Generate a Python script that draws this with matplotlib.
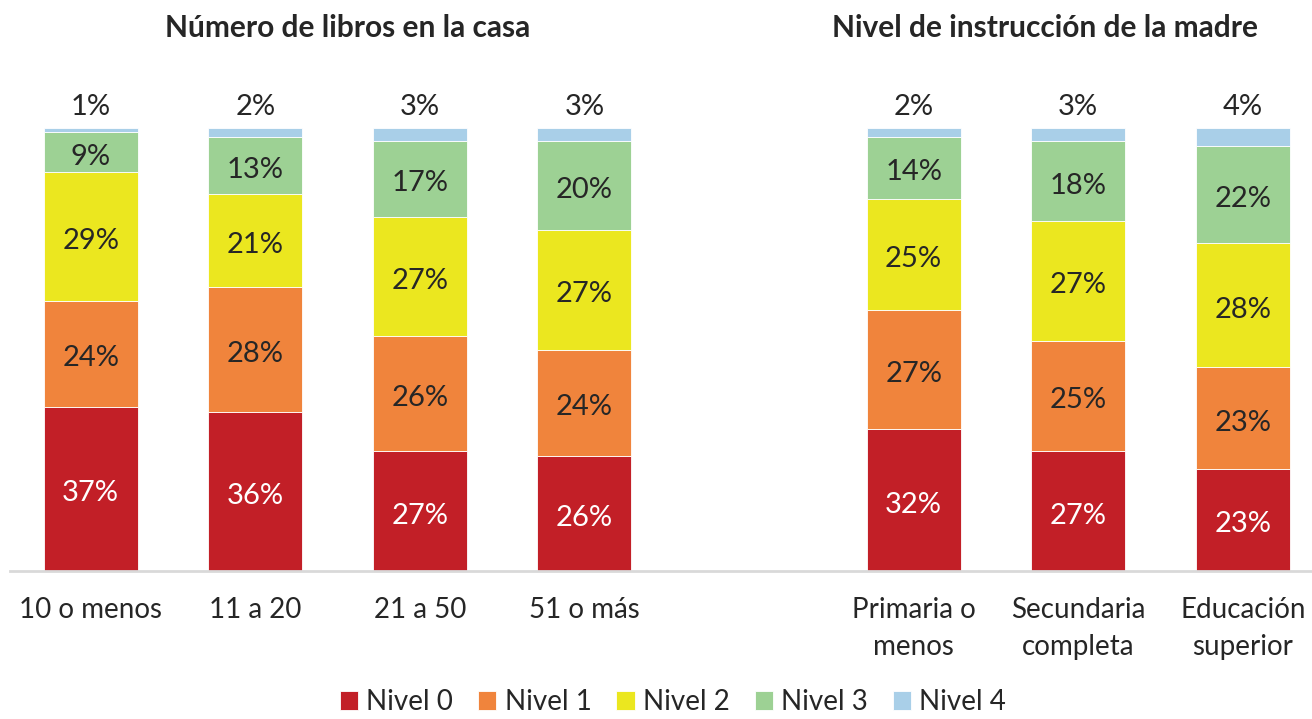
import matplotlib.pyplot as plt

plt.rcParams['font.family'] = ['Lato', 'DejaVu Sans']

categories = ['10 o menos', '11 a 20', '21 a 50', '51 o más',
              'Primaria o\nmenos', 'Secundaria\ncompleta', 'Educación\nsuperior']
positions = [0, 1, 2, 3, 5, 6, 7]
levels = ['Nivel 0', 'Nivel 1', 'Nivel 2', 'Nivel 3', 'Nivel 4']
nivel0 = [37, 36, 27, 26, 32, 27, 23]
nivel1 = [24, 28, 26, 24, 27, 25, 23]
nivel2 = [29, 21, 27, 27, 25, 27, 28]
nivel3 = [9, 13, 17, 20, 14, 18, 22]
nivel4 = [1, 2, 3, 3, 2, 3, 4]
series = [nivel0, nivel1, nivel2, nivel3, nivel4]
colors = ['#C21F27', '#F0843C', '#EBE71F', '#9DD194', '#A9CFE8']
text_colors = ['white', '#262626', '#262626', '#262626', '#262626']

fig = plt.figure(figsize=(13.12, 7.19), dpi=100)
ax = fig.add_axes([10 / 1312, 1 - 571 / 719, 1 - 10 / 1312, (571 - 128) / 719])

bottom = [0] * len(positions)
for i, vals in enumerate(series):
    ax.bar(positions, vals, 0.571, bottom=bottom, color=colors[i],
           edgecolor='white', linewidth=0.6, label=levels[i])
    for x, b, v in zip(positions, bottom, vals):
        if i < 4:
            ax.text(x, b + v / 2 - 1, f'{v}%', ha='center', va='center',
                    fontsize=21, color=text_colors[i])
        else:
            ax.text(x, b + v + 4.8, f'{v}%', ha='center', va='center',
                    fontsize=21, color=text_colors[i])
    bottom = [b + v for b, v in zip(bottom, vals)]

ax.set_xlim(-0.49, 7.42)
ax.set_ylim(0, 100)
ax.set_yticks([])
ax.set_xticks(positions)
ax.set_xticklabels(categories, fontsize=20, color='#262626', linespacing=1.5)
ax.tick_params(axis='x', length=0, pad=19)
for s in ['top', 'right', 'left']:
    ax.spines[s].set_visible(False)
ax.spines['bottom'].set_color('#D9D9D9')
ax.spines['bottom'].set_linewidth(2)

fig.text(348 / 1312, 1 - 28 / 719, 'Número de libros en la casa', ha='center',
         va='center', fontsize=21.5, fontweight='bold', color='#262626')
fig.text(1045 / 1312, 1 - 28 / 719, 'Nivel de instrucción de la madre', ha='center',
         va='center', fontsize=21.5, fontweight='bold', color='#262626')

# leyenda un poco más arriba para que no se corte en el borde
fig.legend(loc='center', bbox_to_anchor=(673 / 1312, 1 - 702 / 719), ncol=5,
           frameon=False, fontsize=20, handlelength=0.65, handleheight=0.65,
           handletextpad=0.3, columnspacing=0.9, labelcolor='#262626',
           borderpad=0.1)

fig.savefig('out.png', dpi=100)
